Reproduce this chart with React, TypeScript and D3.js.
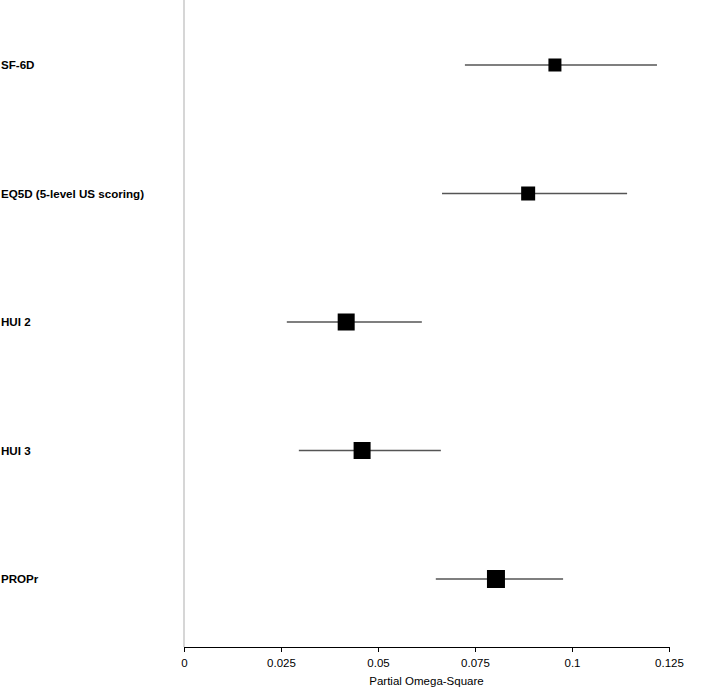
import React, { useEffect, useRef } from "react";
import * as d3 from "d3";

// Forest plot: partial omega-square with CI per utility measure
const measures = ["SF-6D", "EQ5D (5-level US scoring)", "HUI 2", "HUI 3", "PROPr"];
const estimates = [0.0956, 0.0887, 0.0418, 0.0459, 0.0804];
const lower = [0.0724, 0.0665, 0.0265, 0.0296, 0.0649];
const upper = [0.1219, 0.1142, 0.0613, 0.0662, 0.0977];
const weights = [13, 14, 17, 17, 18];
const xTicks = [0, 0.025, 0.05, 0.075, 0.1, 0.125];

export default function App() {
  const ref = useRef<SVGSVGElement>(null);

  useEffect(() => {
    const svg = d3.select(ref.current);
    svg.selectAll("*").remove();

    const font = "Liberation Sans, Arial, sans-serif";
    const axisY = 647;
    const x = d3.scaleLinear().domain([0, 0.125]).range([184, 669]);
    const y = d3.scalePoint<string>().domain(measures).range([65, 579]);
    const size = d3.scaleLinear().domain([0, 20]).range([0, 20]);

    // vertical reference line at zero
    svg.append("line")
      .attr("x1", x(0)).attr("x2", x(0))
      .attr("y1", 0).attr("y2", axisY)
      .attr("stroke", "#c8c8c8").attr("stroke-width", 1.5);

    // x axis
    const axis = svg.append("g")
      .attr("transform", `translate(0,${axisY})`)
      .call(d3.axisBottom(x).tickValues(xTicks).tickSize(5).tickSizeOuter(0)
        .tickFormat(d => String(+d)));
    axis.select(".domain").attr("stroke", "#000");
    axis.selectAll(".tick line").attr("stroke", "#000");
    axis.selectAll("text")
      .attr("font-family", font)
      .attr("font-size", 11.5)
      .attr("fill", "#000")
      .attr("dy", "1.05em");

    svg.append("text")
      .attr("x", (x(0) + x(0.125)) / 2)
      .attr("y", 685)
      .attr("text-anchor", "middle")
      .attr("font-family", font)
      .attr("font-size", 11.5)
      .text("Partial Omega-Square");

    const rows = measures.map((m, i) => ({
      m, est: estimates[i], lo: lower[i], hi: upper[i], w: weights[i],
    }));

    // row labels
    svg.selectAll(".lab").data(rows).enter().append("text")
      .attr("x", 1)
      .attr("y", d => y(d.m)!)
      .attr("dy", "0.35em")
      .attr("font-family", font)
      .attr("font-weight", "bold")
      .attr("font-size", 11.6)
      .text(d => d.m);

    // confidence intervals
    svg.selectAll(".ci").data(rows).enter().append("line")
      .attr("x1", d => x(d.lo)).attr("x2", d => x(d.hi))
      .attr("y1", d => y(d.m)!).attr("y2", d => y(d.m)!)
      .attr("stroke", "#555").attr("stroke-width", 1.4);

    // point estimates
    svg.selectAll(".pt").data(rows).enter().append("rect")
      .attr("x", d => x(d.est) - size(d.w) / 2)
      .attr("y", d => y(d.m)! - size(d.w) / 2)
      .attr("width", d => size(d.w))
      .attr("height", d => size(d.w))
      .attr("fill", "#000");
  }, []);

  return <svg ref={ref} width={708} height={687} style={{ position: "absolute", left: 0, top: 0 }} />;
}
